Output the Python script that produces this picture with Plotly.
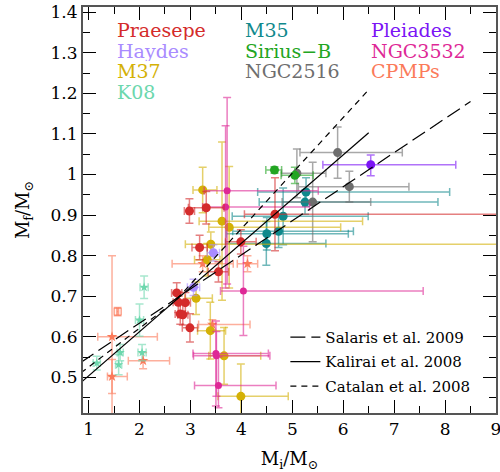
import plotly.graph_objects as go

# ---------------- data ----------------
# Praesepe
praesepe_mi = [2.98, 3.31, 4.66, 3.18, 3.99, 3.55, 2.73, 2.76, 2.90, 2.80, 2.85, 2.99]
praesepe_mf = [0.910, 0.918, 0.902, 0.820, 0.834, 0.760, 0.708, 0.685, 0.684, 0.656, 0.654, 0.622]
praesepe_mi_lo = [0.10, 0.35, 0.60, 0.15, 0.30, 0.20, 0.10, 0.10, 0.10, 0.10, 0.10, 0.15]
praesepe_mi_hi = [0.10, 0.35, 5.00, 0.15, 0.30, 0.20, 0.10, 0.10, 0.10, 0.10, 0.10, 0.15]
praesepe_mf_lo = [0.03, 0.04, 0.09, 0.03, 0.03, 0.025, 0.025, 0.025, 0.025, 0.025, 0.025, 0.035]
praesepe_mf_hi = [0.03, 0.04, 0.09, 0.03, 0.03, 0.025, 0.025, 0.025, 0.025, 0.025, 0.025, 0.035]

# Hyades ("Haydes")
haydes_mi = [3.06, 3.45]
haydes_mf = [0.722, 0.807]
haydes_mi_err = [0.12, 0.12]
haydes_mf_err = [0.02, 0.02]

# M37
m37_mi = [3.24, 3.62, 3.76, 3.40, 3.33, 3.11, 3.39, 3.66, 3.99]
m37_mf = [0.962, 0.885, 0.870, 0.828, 0.790, 0.695, 0.615, 0.553, 0.453]
m37_mi_lo = [0.19, 0.45, 0.40, 0.50, 0.25, 0.22, 0.25, 0.30, 0.45]
m37_mi_hi = [0.28, 2.76, 2.19, 5.80, 0.25, 0.32, 0.30, 0.72, 0.93]
m37_mf_lo = [0.056, 0.195, 0.15, 0.03, 0.04, 0.04, 0.07, 0.07, 0.05]
m37_mf_hi = [0.056, 0.195, 0.15, 0.03, 0.04, 0.04, 0.07, 0.07, 0.08]

# K08
k08_mi = [2.09, 2.00, 2.05, 1.16, 1.59, 1.62]
k08_mf = [0.722, 0.641, 0.561, 0.535, 0.531, 0.561]
k08_mi_err = [0.08, 0.08, 0.08, 0.07, 0.06, 0.06]
k08_mf_err = [0.028, 0.04, 0.02, 0.017, 0.025, 0.02]

# M35
m35_mi = [5.27, 5.25, 4.82, 4.73, 4.50, 4.49]
m35_mf = [0.957, 0.932, 0.897, 0.860, 0.854, 0.830]
m35_mi_lo = [0.95, 0.90, 1.00, 0.90, 0.80, 0.80]
m35_mi_hi = [2.82, 2.61, 1.67, 1.47, 1.60, 1.17]
m35_mf_err = [0.035, 0.03, 0.07, 0.04, 0.04, 0.054]

# Sirius-B
sirius_mi = [4.65, 5.05]
sirius_mf = [1.011, 0.998]
sirius_mi_lo = [0.17, 0.27]
sirius_mi_hi = [0.14, 0.36]
sirius_mf_err = [0.008, 0.02]

# NGC2516
ngc2516_mi = [5.09, 5.89, 6.12, 5.40]
ngc2516_mf = [1.003, 1.054, 0.970, 0.932]
ngc2516_mi_lo = [0.30, 0.74, 1.00, 0.60]
ngc2516_mi_hi = [0.57, 1.27, 1.17, 1.14]
ngc2516_mf_err = [0.06, 0.063, 0.038, 0.098]

# Pleiades
pleiades_mi = [6.54]
pleiades_mf = [1.024]
pleiades_mi_lo = [0.94]
pleiades_mi_hi = [1.67]
pleiades_mf_lo = [0.027]
pleiades_mf_hi = [0.024]

# NGC3532
ngc3532_mi = [3.72, 3.69, 4.04, 3.50, 3.51, 3.55]
ngc3532_mf = [0.960, 0.920, 0.713, 0.559, 0.553, 0.480]
ngc3532_mi_lo = [0.45, 0.45, 0.45, 0.45, 0.45, 0.47]
ngc3532_mi_hi = [1.79, 1.65, 3.53, 1.03, 1.05, 1.13]
ngc3532_mf_lo = [0.23, 0.20, 0.11, 0.13, 0.10, 0.055]
ngc3532_mf_hi = [0.23, 0.20, 0.11, 0.08, 0.06, 0.07]

# CPMPs (stars) and one open square
cpmp_mi = [1.46, 1.46, 2.07, 3.43, 4.12, 3.24]
cpmp_mf = [0.600, 0.502, 0.541, 0.630, 0.780, 0.780]
cpmp_mi_lo = [0.28, 0.09, 0.29, 0.27, 0.20, 0.60]
cpmp_mi_hi = [0.89, 0.30, 0.52, 0.74, 0.20, 0.60]
cpmp_mf_err = [0.20, 0.042, 0.02, 0.012, 0.02, 0.02]
cpmp_sq_mi = [1.57]
cpmp_sq_mf = [0.662]

# IFMR relations (end points)
salaris_mi = [0.85, 8.50]
salaris_mf = [0.537, 1.180]
kalirai_mi = [0.85, 6.50]
kalirai_mf = [0.487, 1.103]
catalan_mi = [0.85, 2.70, 6.50]
catalan_mf = [0.511, 0.688, 1.209]

x_ticks = [1, 2, 3, 4, 5, 6, 7, 8, 9]
y_ticks = [0.5, 0.6, 0.7, 0.8, 0.9, 1.0, 1.1, 1.2, 1.3, 1.4]
y_ticktext = ["0.5", "0.6", "0.7", "0.8", "0.9", "1", "1.1", "1.2", "1.3", "1.4"]

cluster_labels = [
    ("Praesepe", "#d42b2b", 0, 0), ("Haydes", "#a98bff", 0, 1), ("M37", "#d4b106", 0, 2),
    ("K08", "#6cd7ad", 0, 3),
    ("M35", "#10898c", 1, 0), ("Sirius\u2212B", "#22a522", 1, 1), ("NGC2516", "#6e6e6e", 1, 2),
    ("Pleiades", "#7b14f5", 2, 0), ("NGC3532", "#de2896", 2, 1), ("CPMPs", "#fb7a5a", 2, 2),
]

FONT = "DejaVu Serif"


def rgba(hexc, a):
    h = hexc.lstrip("#")
    return "rgba(%d,%d,%d,%.2f)" % (int(h[0:2], 16), int(h[2:4], 16), int(h[4:6], 16), a)


fig = go.Figure()


def add_cluster(mi, mf, color, xlo, xhi, ylo, yhi, size=9, symbol="circle", ealpha=0.6):
    fig.add_trace(go.Scatter(
        x=mi, y=mf, mode="markers",
        marker=dict(color=color, size=size, symbol=symbol, line=dict(width=0)),
        error_x=dict(type="data", symmetric=False, array=xhi, arrayminus=xlo,
                     color=rgba(color, ealpha), thickness=1.5, width=4),
        error_y=dict(type="data", symmetric=False, array=yhi, arrayminus=ylo,
                     color=rgba(color, ealpha), thickness=1.5, width=4),
        showlegend=False, hoverinfo="skip"))


add_cluster(cpmp_mi, cpmp_mf, "#fb7a5a", cpmp_mi_lo, cpmp_mi_hi, cpmp_mf_err, cpmp_mf_err,
            size=8, symbol="star")
add_cluster(cpmp_sq_mi, cpmp_sq_mf, "#fb7a5a", [0.02], [0.02], [0.01], [0.01],
            size=7, symbol="square-open")
add_cluster(k08_mi, k08_mf, "#6cd7ad", k08_mi_err, k08_mi_err, k08_mf_err, k08_mf_err,
            size=7, symbol="star")
add_cluster(m35_mi, m35_mf, "#10898c", m35_mi_lo, m35_mi_hi, m35_mf_err, m35_mf_err)
add_cluster(ngc2516_mi, ngc2516_mf, "#6e6e6e", ngc2516_mi_lo, ngc2516_mi_hi,
            ngc2516_mf_err, ngc2516_mf_err)
add_cluster(sirius_mi, sirius_mf, "#22a522", sirius_mi_lo, sirius_mi_hi,
            sirius_mf_err, sirius_mf_err)
add_cluster(pleiades_mi, pleiades_mf, "#7b14f5", pleiades_mi_lo, pleiades_mi_hi,
            pleiades_mf_lo, pleiades_mf_hi)
add_cluster(m37_mi, m37_mf, "#d4b106", m37_mi_lo, m37_mi_hi, m37_mf_lo, m37_mf_hi)
add_cluster(ngc3532_mi, ngc3532_mf, "#de2896", ngc3532_mi_lo, ngc3532_mi_hi,
            ngc3532_mf_lo, ngc3532_mf_hi, size=7)
add_cluster(haydes_mi, haydes_mf, "#a98bff", haydes_mi_err, haydes_mi_err,
            haydes_mf_err, haydes_mf_err)
add_cluster(praesepe_mi, praesepe_mf, "#d42b2b", praesepe_mi_lo, praesepe_mi_hi,
            praesepe_mf_lo, praesepe_mf_hi)

fig.add_trace(go.Scatter(x=salaris_mi, y=salaris_mf, mode="lines", name="Salaris et al. 2009",
                         line=dict(color="black", width=1.2, dash="15px,6px"),
                         legendgroup="a", hoverinfo="skip"))
fig.add_trace(go.Scatter(x=kalirai_mi, y=kalirai_mf, mode="lines", name="Kalirai et al. 2008",
                         line=dict(color="black", width=1.2), legendgroup="b", hoverinfo="skip"))
fig.add_trace(go.Scatter(x=catalan_mi, y=catalan_mf, mode="lines", name="Catalan et al. 2008",
                         line=dict(color="black", width=1.2, dash="6px,5px"),
                         legendgroup="c", hoverinfo="skip"))

col_x = [0.0775, 0.387, 0.693]
row_y = [0.943, 0.892, 0.842, 0.791]
for text, color, c, r in cluster_labels:
    fig.add_annotation(x=col_x[c], y=row_y[r], xref="paper", yref="paper", text=text,
                       showarrow=False, xanchor="left", yanchor="middle", height=20,
                       font=dict(family=FONT, size=19, color=color))

axis_common = dict(showline=True, linecolor="#555555", linewidth=2, mirror="allticks",
                   ticks="inside", ticklen=13, tickwidth=1.2, tickcolor="black",
                   showgrid=False, zeroline=False, automargin=False,
                   ticklabeloverflow="allow",
                   tickfont=dict(family=FONT, size=17, color="black"))

fig.update_xaxes(range=[0.89, 9.0], tickvals=x_ticks,
                 minor=dict(dtick=0.5, tick0=0, ticks="inside", ticklen=7, tickcolor="black",
                            tickwidth=1.2, showgrid=False),
                 title=dict(text="M<sub>i</sub>/M<sub>\u2299</sub>",
                            font=dict(family=FONT, size=18, color="black"), standoff=16),
                 **axis_common)
fig.update_yaxes(range=[0.412, 1.413], tickvals=y_ticks, ticktext=y_ticktext,
                 minor=dict(dtick=0.05, tick0=0, ticks="inside", ticklen=7, tickcolor="black",
                            tickwidth=1.2, showgrid=False),
                 title=dict(text="M<sub>f</sub>/M<sub>\u2299</sub>",
                            font=dict(family=FONT, size=18, color="black"), standoff=16),
                 **axis_common)

fig.update_layout(
    width=500, height=472,
    margin=dict(l=83, r=4, t=7, b=59),
    plot_bgcolor="white", paper_bgcolor="white",
    font=dict(family=FONT, color="black"),
    legend=dict(x=0.49, y=0.227, xanchor="left", yanchor="top",
                font=dict(family=FONT, size=15, color="black"),
                bgcolor="rgba(0,0,0,0)", tracegroupgap=2, itemwidth=30),
)

fig.write_html("out.html", config={"displayModeBar": False},
               post_script="document.body.style.margin='0px';document.body.style.overflow='hidden';")
